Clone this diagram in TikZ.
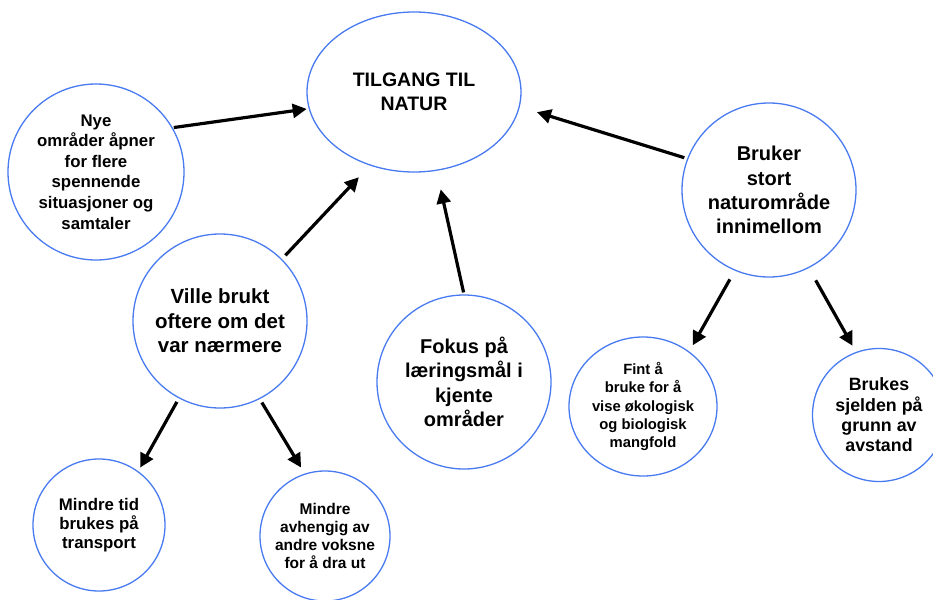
\documentclass[tikz,border=0pt]{standalone}
\usepackage{fontspec}
\setmainfont{Liberation Sans}
\usetikzlibrary{arrows.meta,shapes.geometric}
\definecolor{cblue}{RGB}{72,122,240}
\begin{document}
\begin{tikzpicture}[x=1pt,y=-1pt,
  bub/.style={circle,draw=cblue,line width=1.3pt,inner sep=0pt,align=center,text=black},
  fs/.style 2 args={font=\bfseries\fontsize{#1}{#2}\selectfont},
  arr/.style={line width=3.2pt,-{Triangle[length=14pt,width=14pt]}}
]
\useasboundingbox (0,0) rectangle (933,599);
\clip (0,0) rectangle (933,599);
\node[bub,ellipse,minimum width=214pt,minimum height=160pt,fs={19.5}{24.5}] (tn) at (414,92) {TILGANG TIL\\NATUR};
\node[bub,minimum size=176pt,fs={16.8}{20.6}] (nye) at (96,172) {Nye\\områder åpner\\for flere\\spennende\\situasjoner og\\samtaler};
\node[bub,minimum size=174pt,fs={20.5}{24.5}] (vil) at (220,321) {Ville brukt\\oftere om det\\var nærmere};
\node[bub,minimum size=174pt,fs={20}{24.3}] (fok) at (464,382) {Fokus på\\læringsmål i\\kjente\\områder};
\node[bub,minimum size=174pt,fs={20}{24.3}] (bru) at (769,190) {Bruker\\stort\\naturområde\\innimellom};
\node[bub,ellipse,minimum width=148pt,minimum height=139pt,fs={14.8}{18.3}] (fin) at (643,406.5) {Fint å\\bruke for å\\vise økologisk\\og biologisk\\mangfold};
\node[bub,minimum size=133pt,fs={17.8}{20.3}] (bks) at (879,415) {Brukes\\sjelden på\\grunn av\\avstand};
\node[bub,minimum size=132pt,fs={16.8}{19.2}] (tid) at (99,525) {Mindre tid\\brukes på\\transport};
\node[bub,minimum size=130pt,fs={15.5}{18}] (avh) at (325,536) {Mindre\\avhengig av\\andre voksne\\for å dra ut};
\draw[arr,shorten <=1pt,shorten >=2pt] (nye.30) -- (tn.189);
\draw[arr,shorten <=5pt,shorten >=16pt] (vil.45) -- (tn.239.6);
\draw[arr,shorten <=2pt,shorten >=19pt] (fok.90) -- (tn.286.8);
\draw[arr,shorten <=3pt,shorten >=18pt] (bru.159) -- (tn.352);
\draw[arr,shorten <=10pt,shorten >=7pt] (bru.247.6) -- (fin.50);
\draw[arr,shorten <=14pt,shorten >=7pt] (bru.297) -- (bks.110.6);
\draw[arr,shorten <=4pt,shorten >=4pt] (vil.242.6) -- (tid.54.3);
\draw[arr,shorten <=4pt,shorten >=7pt] (vil.297.4) -- (avh.108.7);
\end{tikzpicture}
\end{document}
